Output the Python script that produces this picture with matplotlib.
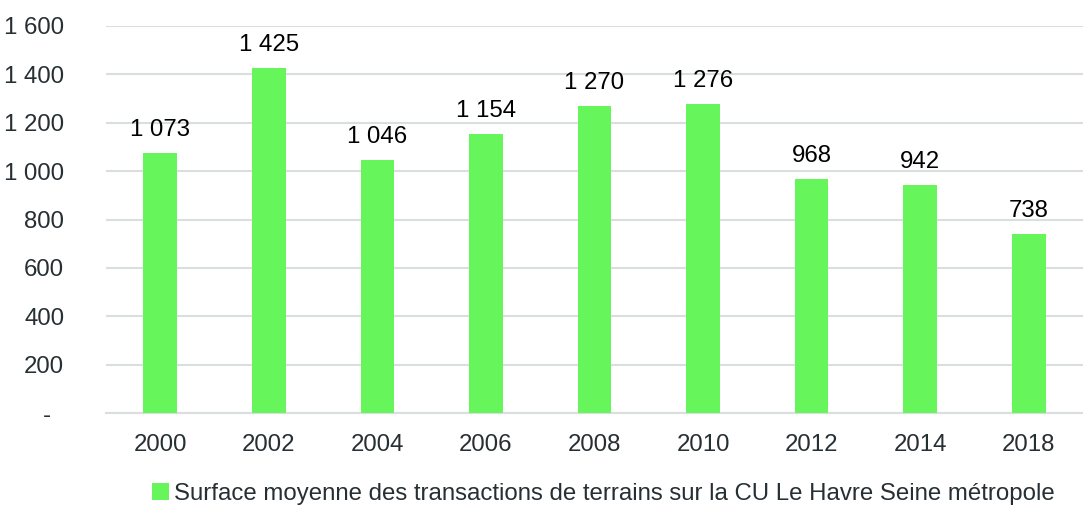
import matplotlib.pyplot as plt
import numpy as np

plt.rcParams['font.family'] = ['Liberation Sans', 'DejaVu Sans']

# Données
annees = ['2000', '2002', '2004', '2006', '2008', '2010', '2012', '2014', '2018']
surfaces = [1073, 1425, 1046, 1154, 1270, 1276, 968, 942, 738]
legende = 'Surface moyenne des transactions de terrains sur la CU Le Havre Seine métropole'

vert = '#66f55a'
texte = '#262f33'
fs = 17.3


def fmt(v):
    return '{:,}'.format(v).replace(',', ' ')


fig = plt.figure(figsize=(10.83, 5.07), dpi=100)
ax = fig.add_axes([106 / 1083, 1 - 413 / 507, 977 / 1083, 387 / 507])

x = np.arange(len(annees))
barres = ax.bar(x, surfaces, width=0.31, color=vert, label=legende, zorder=3)

for xi, v in zip(x, surfaces):
    ax.text(xi, v + 50, fmt(v), ha='center', va='bottom', fontsize=fs, color='black')

ax.set_xlim(-0.5, len(annees) - 0.5)
ax.set_ylim(0, 1600)
yt = np.arange(0, 1601, 200)
ax.set_yticks(yt)
ax.set_yticklabels(['-  '] + [fmt(v) for v in yt[1:]])
ax.set_xticks(x)
ax.set_xticklabels(annees)
ax.tick_params(axis='both', length=0, labelsize=fs, labelcolor=texte)
ax.tick_params(axis='y', pad=30)
ax.tick_params(axis='x', pad=15)

ax.yaxis.grid(True, color='#d9dfdf', linewidth=1.5, zorder=0)
for s in ['top', 'right', 'left']:
    ax.spines[s].set_visible(False)
ax.spines['bottom'].set_color('#d9dfdf')
ax.spines['bottom'].set_linewidth(1.5)

fig.legend(handles=[barres], labels=[legende], loc='center', bbox_to_anchor=(0.557, 1 - 494 / 507),
           frameon=False, fontsize=fs, handlelength=0.7, handleheight=0.7, handletextpad=0.2,
           labelcolor=texte)

fig.savefig('out.png', dpi=100)
